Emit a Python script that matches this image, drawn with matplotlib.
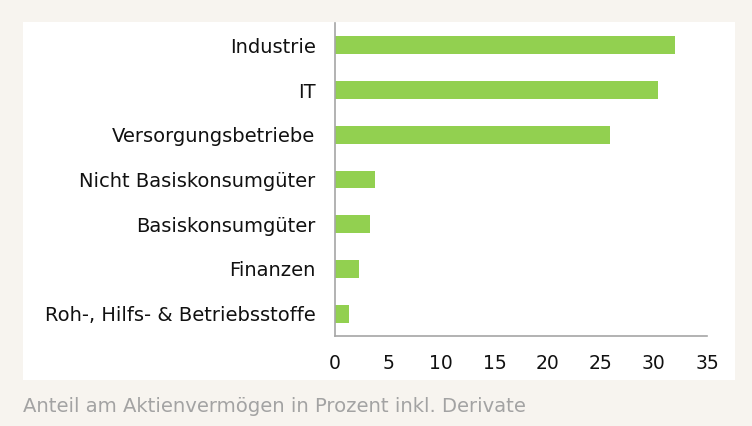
import matplotlib.pyplot as plt
from matplotlib.patches import Rectangle

categories = ["Industrie", "IT", "Versorgungsbetriebe", "Nicht Basiskonsumgüter",
              "Basiskonsumgüter", "Finanzen", "Roh-, Hilfs- & Betriebsstoffe"]
values = [32.0, 30.4, 25.9, 3.8, 3.3, 2.3, 1.3]
xticks = [0, 5, 10, 15, 20, 25, 30, 35]
caption = "Anteil am Aktienvermögen in Prozent inkl. Derivate"

bg = "#f7f4ef"
green = "#92d050"
axis_grey = "#a6a6a6"

fig = plt.figure(figsize=(7.52, 4.26), dpi=100, facecolor=bg)

# white panel behind the chart
panel = Rectangle((23 / 752, 1 - 380 / 426), (735 - 23) / 752, (380 - 22) / 426,
                  transform=fig.transFigure, facecolor="white", edgecolor="none", zorder=-5)
fig.patches.append(panel)

ax = fig.add_axes([335 / 752, 1 - 336 / 426, (707 - 335) / 752, (336 - 23) / 426])
ax.set_facecolor("none")
ax.set_zorder(2)

pos = list(range(len(categories)))[::-1]
ax.barh(pos, values, height=0.4, color=green, zorder=2)

ax.set_xlim(0, 35)
ax.set_ylim(-0.5, len(categories) - 0.5)
ax.set_xticks(xticks)
ax.set_yticks(pos)
ax.set_yticklabels(categories)

for s in ["top", "right"]:
    ax.spines[s].set_visible(False)
for s in ["left", "bottom"]:
    ax.spines[s].set_color(axis_grey)
    ax.spines[s].set_linewidth(1.2)

ax.tick_params(axis="y", length=0, pad=14, labelsize=14, labelcolor="#111111")
ax.tick_params(axis="x", length=0, pad=13, labelsize=13.5, labelcolor="#111111")
for lab in ax.get_xticklabels() + ax.get_yticklabels():
    lab.set_fontfamily("DejaVu Sans")

fig.text(23 / 752, 1 - 407 / 426, caption, fontsize=14.1, color="#a3a3a3",
         family="DejaVu Sans", va="center", ha="left")

fig.savefig("out.png", dpi=100, facecolor=bg)
